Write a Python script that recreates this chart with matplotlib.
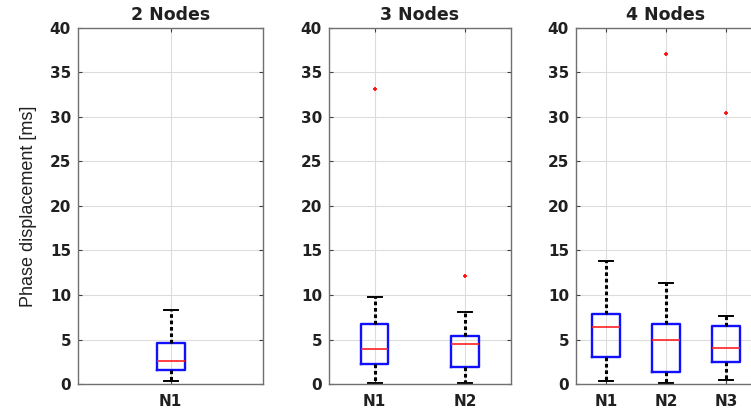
import matplotlib.pyplot as plt

plt.rcParams['font.family'] = ['Liberation Sans', 'DejaVu Sans']

# box statistics per network size: whisker low, Q1, median, Q3, whisker high, outliers
titles = ['2 Nodes', '3 Nodes', '4 Nodes']
labels = [['N1'], ['N1', 'N2'], ['N1', 'N2', 'N3']]
whislo = [[0.3], [0.1, 0.1], [0.3, 0.1, 0.4]]
q1 = [[1.6], [2.2, 1.9], [3.0, 1.4, 2.5]]
med = [[2.6], [3.9, 4.5], [6.4, 5.0, 4.1]]
q3 = [[4.6], [6.7, 5.4], [7.9, 6.7, 6.5]]
whishi = [[8.3], [9.8, 8.1], [13.8, 11.4, 7.6]]
fliers = [[[]], [[33.2], [12.1]], [[], [37.1], [30.4]]]

W, H = 751, 411
fig = plt.figure(figsize=(W / 100, H / 100), dpi=100)

# axes rectangles in pixels: left, width (top 28, bottom 384)
ax_px = [(78, 185), (329, 182), (576, 180)]
top, bottom = 28, 384
box_px = 28
bold = dict(family='DejaVu Sans', fontweight='bold', color='#202020')

for k in range(3):
    left, width = ax_px[k]
    ax = fig.add_axes([left / W, (H - bottom) / H, width / W, (bottom - top) / H])
    n = len(labels[k])
    stats = []
    for i in range(n):
        stats.append(dict(whislo=whislo[k][i], q1=q1[k][i], med=med[k][i],
                          q3=q3[k][i], whishi=whishi[k][i], fliers=fliers[k][i]))
    bw = box_px / (width / n)
    ax.bxp(stats, positions=range(1, n + 1), widths=bw, capwidths=bw / 2,
           showfliers=True, patch_artist=False,
           boxprops=dict(color='#1010ff', linewidth=1.7),
           medianprops=dict(color='#ff2020', linewidth=1.2),
           whiskerprops=dict(color='black', linewidth=2.2, linestyle=(0, (1.2, 0.9))),
           capprops=dict(color='black', linewidth=1.4),
           flierprops=dict(marker='+', markeredgecolor='#ff1010', markersize=3.5,
                           markeredgewidth=1.3, linestyle='none'))
    ax.set_xlim(0.5, n + 0.5)
    ax.set_ylim(0, 40)
    ax.set_yticks(range(0, 41, 5))
    ax.set_xticks(range(1, n + 1))
    ax.set_xticklabels(labels[k])
    ax.grid(True, color='#dcdcdc', linewidth=0.8)
    ax.set_axisbelow(True)
    ax.tick_params(direction='in', length=3, width=0.8, color='#404040',
                   top=True, right=True, labelsize=11)
    ax.tick_params(axis='x', pad=7)
    ax.tick_params(axis='y', pad=5)
    for lab in ax.get_xticklabels() + ax.get_yticklabels():
        lab.set(**bold)
    for sp in ax.spines.values():
        sp.set_color('#707070')
        sp.set_linewidth(1.0)
    ax.set_title(titles[k], fontsize=12.5, pad=6, **bold)
    if k == 0:
        ax.set_ylabel('Phase displacement [ms]', fontsize=13, color='#202020',
                      labelpad=9)

fig.savefig('out.png', dpi=100)
